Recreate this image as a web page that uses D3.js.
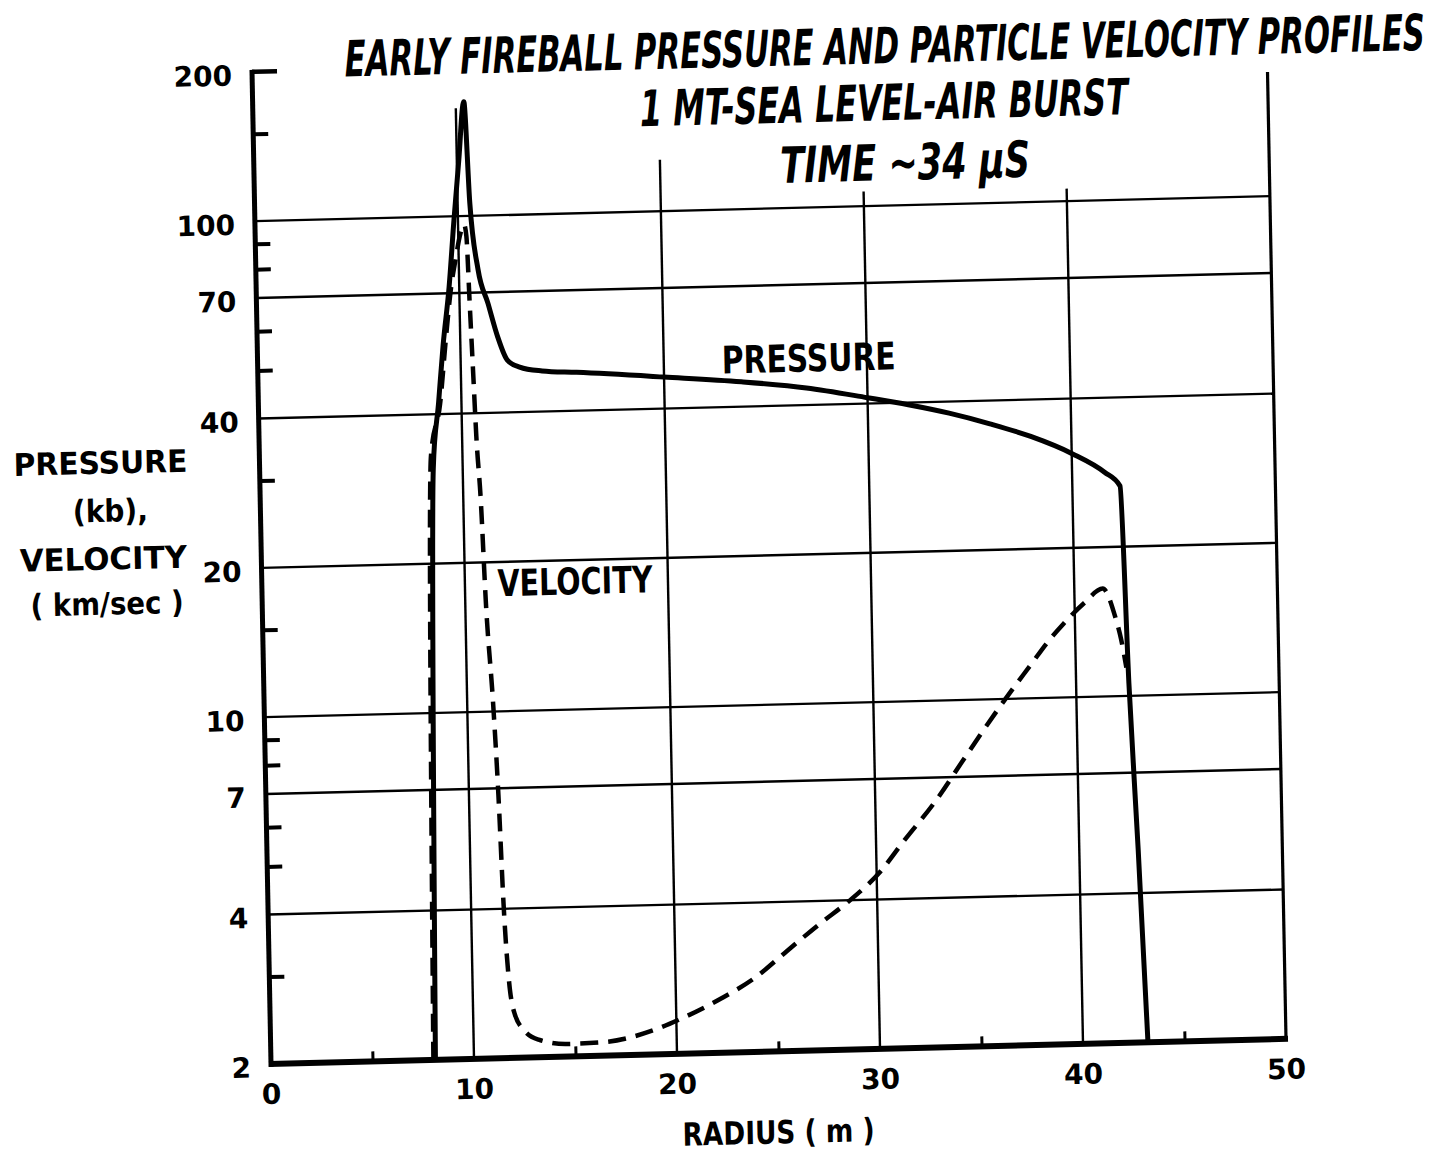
<!DOCTYPE html>
<html>
<head>
<meta charset="utf-8">
<script src="https://cdn.jsdelivr.net/npm/d3@7"></script>
<style>
  body { margin: 0; background: #fff; }
  .lbl { font-family: "DejaVu Sans", sans-serif; font-weight: bold; fill: #000; }
  .ttl { font-family: "Liberation Sans Narrow", "DejaVu Sans Condensed", sans-serif; font-weight: bold; font-style: italic; fill: #000; }
</style>
</head>
<body>
<div id="chart"></div>
<script>
// ---- data ----
const radiusTicks = [0, 10, 20, 30, 40, 50];
const radiusMinorTicks = [5, 15, 25, 35, 45];
const radiusGridLines = [10, 20, 30, 40, 50];
const radiusGridTops = [165, 127, 107, 106, 178];   // value where each vertical rule stops

const valueTickLabels = [2, 4, 7, 10, 20, 40, 70, 100, 200];
const valueGridLines = [4, 7, 10, 20, 40, 70, 100];
const valueMinorTicks = [3, 5, 6, 8, 9, 15, 30, 50, 60, 80, 90, 150];

const pressureRadius = [8.1, 8.55, 8.87, 9.15, 9.5, 9.8, 10.1, 10.4, 10.6, 10.94, 11.4, 11.85, 12.3, 12.9,
  14.0, 15.7, 20, 23.8, 27, 30, 32, 34, 36, 38, 40, 41.6, 42.35, 42.6, 42.9, 43.2];
const pressureKb = [2, 31, 42, 55, 72, 98, 130, 170, 106, 78, 66.5, 56.8, 51, 49.3,
  48.3, 47.8, 46.3, 44.9, 43.3, 41.1, 39.6, 37.9, 35.9, 33.7, 31.0, 28.3, 26.5, 10.6, 4.9, 2];

const velocityRadius = [8.0, 8.45, 8.95, 9.3, 9.6, 9.85, 10.1, 10.3, 10.4, 10.5, 10.6, 10.7, 10.86, 11.01,
  11.28, 11.45, 11.6, 11.8, 12.05, 12.5, 13.2, 14.6, 16.4, 18.9, 20.2, 22.2, 23.9, 25.5, 27.2, 28.6,
  30.2, 31.3, 33.0, 34.5, 36.1, 36.9, 37.8, 38.6, 39.45, 40.5, 41.4, 42.0, 42.26, 42.49];
const velocityKmSec = [2, 33, 42, 57, 72, 82, 92, 96, 91, 66.5, 49, 36, 26.7, 16.8,
  10.3, 6.8, 4.1, 2.85, 2.45, 2.27, 2.17, 2.12, 2.13, 2.24, 2.35, 2.57, 2.82, 3.18, 3.61, 3.98,
  4.56, 5.19, 6.3, 7.7, 9.5, 10.5, 11.7, 12.9, 14.1, 15.5, 16.5, 14.4, 13, 11.4];

const titleLines = ['EARLY FIREBALL PRESSURE AND PARTICLE VELOCITY PROFILES', '1 MT-SEA LEVEL-AIR BURST', 'TIME ~34 \u03bcS'];
const yTitleLines = ['PRESSURE', '(kb),', 'VELOCITY', '( km/sec )'];
const xTitle = 'RADIUS ( m )';

// squeeze a centred text to a given width around (cx, by)
function fitText(sel, cx, by, w) {
  sel.attr('x', 0).attr('y', 0).attr('text-anchor', 'middle');
  const n = sel.node().getComputedTextLength();
  sel.attr('transform', `translate(${cx},${by}) scale(${(w / n).toFixed(4)},1)`);
}

class ProfileChart {
  constructor(parent) {
    this.config = { parentElement: parent, width: 1446, height: 1153 };
    this.initVis();
  }

  initVis() {
    let vis = this;
    vis.svg = d3.select(vis.config.parentElement).append('svg')
      .attr('width', vis.config.width)
      .attr('height', vis.config.height);

    // the scan is a little skewed, so the whole sheet sits in one skewed frame
    vis.chart = vis.svg.append('g')
      .attr('transform', 'matrix(1,-0.02463,0.01913,1,265,1064)');

    vis.x = d3.scaleLinear().domain([0, 50]).range([6, 1021]);
    vis.y = d3.scaleLog().domain([2, 200]).range([0, -992]);

    vis.renderVis();
  }

  renderVis() {
    let vis = this;
    const x = vis.x, y = vis.y;

    // horizontal rules
    vis.chart.selectAll('.hgrid').data(valueGridLines).join('line')
      .attr('class', 'hgrid')
      .attr('x1', x(0)).attr('x2', x(50))
      .attr('y1', d => y(d)).attr('y2', d => y(d))
      .attr('stroke', '#000').attr('stroke-width', 2.4);

    // vertical rules
    vis.chart.selectAll('.vgrid').data(radiusGridLines).join('line')
      .attr('class', 'vgrid')
      .attr('x1', d => x(d)).attr('x2', d => x(d))
      .attr('y1', y(2)).attr('y2', (d, i) => y(radiusGridTops[i]))
      .attr('stroke', '#000').attr('stroke-width', d => d === 50 ? 3.2 : 2.4);

    // left axis with ticks
    const yAxis = d3.axisRight(y)
      .tickValues(valueMinorTicks)
      .tickSize(15)
      .tickFormat('');
    const yAxisG = vis.chart.append('g').attr('transform', `translate(${x(0)},0)`).call(yAxis);
    yAxisG.select('.domain').remove();
    yAxisG.selectAll('.tick line').attr('stroke', '#000').attr('stroke-width', 4);

    vis.chart.append('line')
      .attr('x1', x(0)).attr('x2', x(0) + 25)
      .attr('y1', y(200)).attr('y2', y(200))
      .attr('stroke', '#000').attr('stroke-width', 4.5);
    vis.chart.append('line')
      .attr('x1', x(0)).attr('x2', x(0))
      .attr('y1', y(2) + 3).attr('y2', y(200) - 2)
      .attr('stroke', '#000').attr('stroke-width', 5);

    // bottom axis with small upward ticks
    const xAxis = d3.axisTop(x)
      .tickValues(radiusMinorTicks)
      .tickSize(10)
      .tickFormat('');
    const xAxisG = vis.chart.append('g').attr('transform', `translate(0,${y(2)})`).call(xAxis);
    xAxisG.select('.domain').remove();
    xAxisG.selectAll('.tick line').attr('stroke', '#000').attr('stroke-width', 3);

    vis.chart.append('line')
      .attr('x1', x(0) - 2).attr('x2', x(50) + 2)
      .attr('y1', y(2)).attr('y2', y(2))
      .attr('stroke', '#000').attr('stroke-width', 6);

    // tick labels
    vis.chart.selectAll('.ylab').data(valueTickLabels).join('text')
      .attr('class', 'lbl ylab')
      .attr('x', x(0) - 20)
      .attr('y', d => y(d) + 3)
      .attr('dy', '0.36em')
      .attr('text-anchor', 'end')
      .attr('font-size', 28)
      .text(d => d);

    vis.chart.selectAll('.xlab').data(radiusTicks).join('text')
      .attr('class', 'lbl xlab')
      .attr('x', d => x(d))
      .attr('y', y(2) + 40)
      .attr('text-anchor', 'middle')
      .attr('font-size', 28)
      .text(d => d);

    // curves
    const line = (xs, ys) => d3.line()
      .x((d, i) => x(xs[i]))
      .y((d, i) => y(ys[i]))
      .curve(d3.curveMonotoneX)(xs);

    vis.chart.append('path')
      .attr('d', line(velocityRadius, velocityKmSec))
      .attr('fill', 'none')
      .attr('stroke', '#000')
      .attr('stroke-width', 4.5)
      .attr('stroke-dasharray', '18,10');

    vis.chart.append('path')
      .attr('d', line(pressureRadius, pressureKb))
      .attr('fill', 'none')
      .attr('stroke', '#000')
      .attr('stroke-width', 5)
      .attr('stroke-linejoin', 'round');

    // curve labels
    vis.chart.append('text')
      .attr('class', 'lbl')
      .attr('font-size', 38)
      .attr('dy', '0.36em')
      .text('PRESSURE')
      .call(fitText, x(27.14), y(49.8), 174);

    vis.chart.append('text')
      .attr('class', 'lbl')
      .attr('font-size', 37)
      .attr('dy', '0.36em')
      .text('VELOCITY')
      .call(fitText, x(15.42), y(18.16), 155);

    // axis titles
    vis.chart.append('text')
      .attr('class', 'lbl')
      .attr('font-size', 32)
      .text(xTitle)
      .call(fitText, 512, 92, 192);

    const yTitlePos = [[-153, -594, 174], [-144, -546, 75], [-152, -498, 167], [-149, -453, 153]];
    vis.chart.selectAll('.ytitle').data(yTitleLines).join('text')
      .attr('class', 'lbl ytitle')
      .attr('font-size', 31)
      .text(d => d)
      .each(function (d, i) {
        fitText(d3.select(this), yTitlePos[i][0], yTitlePos[i][1], yTitlePos[i][2]);
      });

    // hand-lettered title block
    const titlePos = [[639, -985, 1080], [637, -928, 488], [657, -868, 250]];
    vis.chart.selectAll('.title').data(titleLines).join('text')
      .attr('class', 'ttl title')
      .attr('font-size', 50)
      .text(d => d)
      .each(function (d, i) {
        fitText(d3.select(this), titlePos[i][0], titlePos[i][1], titlePos[i][2]);
      });
  }
}

new ProfileChart('#chart');
</script>
</body>
</html>
